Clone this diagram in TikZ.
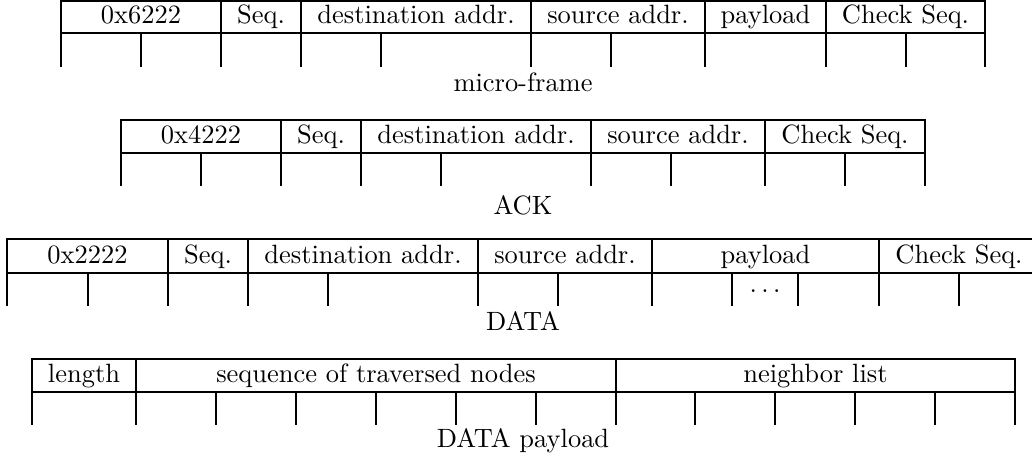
\documentclass[tikz,border=0pt]{standalone}
\usepackage{amsmath}
\usepackage{tikz}
\tikzset{
	field/.style={anchor=base, inner sep=0pt},
	framename/.style={anchor=base, inner sep=0pt}
}

\begin{document}
\begin{tikzpicture}[x=0.378pt, y=-0.378pt, line width=0.8pt]
				\useasboundingbox (0,0) rectangle (1032,468);
				\clip (0,0) rectangle (1032,468);

				% micro-frame
				\draw (61,1) rectangle (985,33);
				\foreach \x in {221,301,531,705,826} \draw (\x,1) -- (\x,33);
				\foreach \x in {61,141,221,301,381,531,611,705,826,906,985} \draw (\x,33) -- (\x,67);
				\node[field] (mtype) at (141,23) {0x6222};
				\node[field] (mseq) at (261,23) {Seq.};
				\node[field] (mdst) at (416,23) {destination addr.};
				\node[field] (msrc) at (618,23) {source addr.};
				\node[field] (mpay) at (765.5,23) {payload};
				\node[field] (mchk) at (905.5,23) {Check Seq.};
				\node[framename] (micro) at (523,91) {micro-frame};

				% ACK
				\draw (121,120) rectangle (925,153);
				\foreach \x in {281,361,591,765} \draw (\x,120) -- (\x,153);
				\foreach \x in {121,201,281,361,441,591,671,765,845,925} \draw (\x,153) -- (\x,186);
				\node[field] (atype) at (201,143) {0x4222};
				\node[field] (aseq) at (321,143) {Seq.};
				\node[field] (adst) at (476,143) {destination addr.};
				\node[field] (asrc) at (678,143) {source addr.};
				\node[field] (achk) at (845,143) {Check Seq.};
				\node[framename] (ack) at (523,214) {ACK};

				% DATA
				\draw (7,239) rectangle (1039,273);
				\foreach \x in {168,248,478,652,879} \draw (\x,239) -- (\x,273);
				\foreach \x in {7,88,168,248,328,478,558,652,732,798,879,959,1039} \draw (\x,273) -- (\x,306);
				\node[field] (dtype) at (87.5,263) {0x2222};
				\node[field] (dseq) at (208,263) {Seq.};
				\node[field] (ddst) at (363,263) {destination addr.};
				\node[field] (dsrc) at (565,263) {source addr.};
				\node[field] (dpay) at (765.5,263) {payload};
				\node[field] (dchk) at (959,263) {Check Seq.};
				\node[field] (ddots) at (765,292) {$\ldots$};
				\node[framename] (data) at (523,330) {DATA};

				% DATA payload
				\draw (32,359) rectangle (1015,392);
				\foreach \x in {136,616} \draw (\x,359) -- (\x,392);
				\foreach \x in {32,136,216,296,376,456,536,616,695,775,855,935,1015} \draw (\x,392) -- (\x,425);
				\node[field] (plen) at (84,382) {length};
				\node[field] (pseq) at (376,382) {sequence of traversed nodes};
				\node[field] (pnbr) at (815.5,382) {neighbor list};
				\node[framename] (payload) at (523,447) {DATA payload};

			\end{tikzpicture}
\end{document}
